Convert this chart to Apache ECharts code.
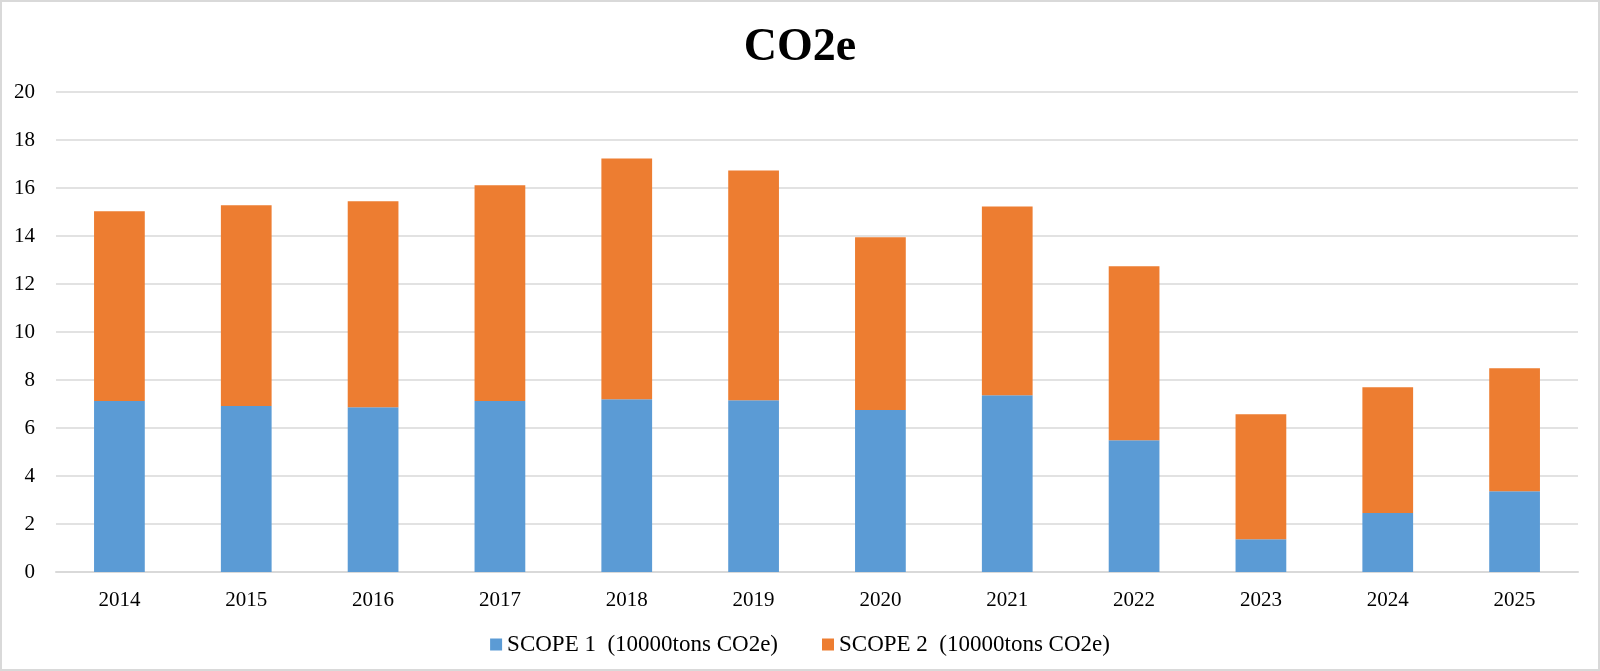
<!DOCTYPE html>
<html>
<head>
<meta charset="utf-8">
<script src="https://cdn.jsdelivr.net/npm/echarts@6/dist/echarts.min.js"></script>
<style>
  html, body { margin: 0; padding: 0; background: #fff; }
  #chart {
    width: 1600px;
    height: 671px;
    box-sizing: border-box;
    border: 2px solid #d9d9d9;
  }
</style>
</head>
<body>
<div id="chart"></div>
<script>
// 年度
const years = ["2014", "2015", "2016", "2017", "2018", "2019", "2020", "2021", "2022", "2023", "2024", "2025"];
// SCOPE 1 (万トン CO2e)
const scope1 = [7.12, 6.92, 6.86, 7.12, 7.20, 7.16, 6.75, 7.36, 5.49, 1.36, 2.46, 3.36];
// SCOPE 2 の積み上げ後の合計
const totals = [15.03, 15.28, 15.45, 16.11, 17.23, 16.73, 13.95, 15.23, 12.74, 6.57, 7.70, 8.49];
const scope2 = totals.map((t, i) => +(t - scope1[i]).toFixed(2));

const seriesNames = ["SCOPE 1  (10000tons CO2e)", "SCOPE 2  (10000tons CO2e)"];
const colors = ["#5B9BD5", "#ED7D31"];
const font = "'Liberation Serif', 'Times New Roman', serif";

const chart = echarts.init(document.getElementById("chart"));

chart.setOption({
  animation: false,
  backgroundColor: "#ffffff",
  title: {
    text: "CO2e",
    left: "center",
    top: 18,
    textStyle: {
      fontFamily: font,
      fontSize: 46,
      fontWeight: "bold",
      color: "#000000",
    },
  },
  legend: {
    data: seriesNames,
    left: "center",
    top: 626,
    itemWidth: 12,
    itemHeight: 12,
    itemGap: 44,
    icon: "rect",
    textStyle: {
      fontFamily: font,
      fontSize: 23,
      color: "#000000",
    },
  },
  grid: {
    left: 54,
    right: 20,
    top: 90,
    bottom: 97,
    containLabel: false,
  },
  xAxis: {
    type: "category",
    data: years,
    axisTick: { show: false },
    axisLine: { lineStyle: { color: "#d9d9d9", width: 2 } },
    axisLabel: {
      fontFamily: font,
      fontSize: 21,
      color: "#000000",
      margin: 18,
    },
  },
  yAxis: {
    type: "value",
    min: 0,
    max: 20,
    interval: 2,
    axisLine: { show: false },
    axisTick: { show: false },
    axisLabel: {
      fontFamily: font,
      fontSize: 21,
      color: "#000000",
      margin: 21,
    },
    splitLine: { lineStyle: { color: "#d9d9d9", width: 1.5 } },
  },
  series: [
    {
      name: seriesNames[0],
      type: "bar",
      stack: "total",
      barWidth: "40%",
      data: scope1,
      itemStyle: { color: colors[0] },
    },
    {
      name: seriesNames[1],
      type: "bar",
      stack: "total",
      barWidth: "40%",
      data: scope2,
      itemStyle: { color: colors[1] },
    },
  ],
});
</script>
</body>
</html>
